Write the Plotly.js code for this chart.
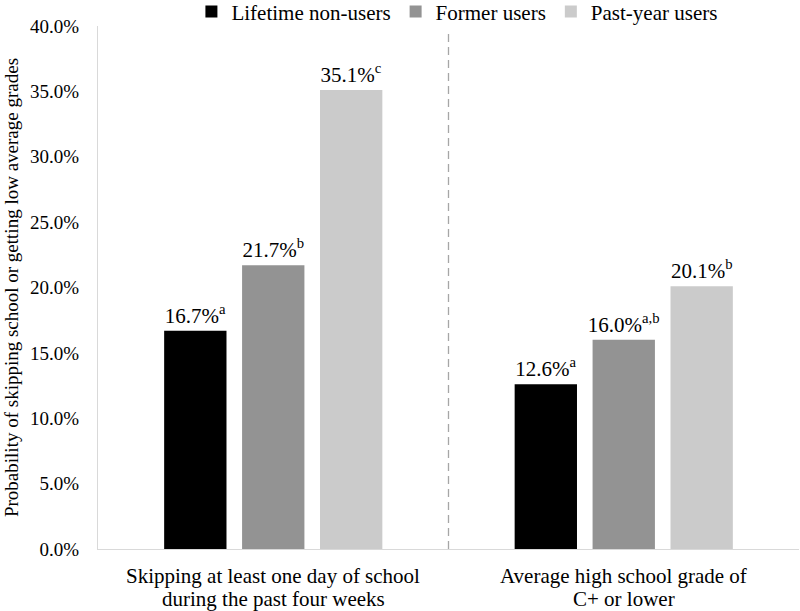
<!DOCTYPE html>
<html>
<head>
<meta charset="utf-8">
<script src="https://cdn.plot.ly/plotly-3.0.1.min.js"></script>
<style>html,body{margin:0;padding:0;background:#fff;}#chart{width:800px;height:611px;}</style>
</head>
<body>
<div id="chart"></div>
<script>
const categories = ["Skipping at least one day of school<br>during the past four weeks", "Average high school grade of<br>C+ or lower"];
const seriesNames = ["Lifetime non-users", "Former users", "Past-year users"];
const lifetimeNonUsers = [0.167, 0.126];
const formerUsers = [0.217, 0.160];
const pastYearUsers = [0.351, 0.201];
const lifetimeSup = ["a", "a"];
const formerSup = ["b", "a,b"];
const pastYearSup = ["c", "b"];
const yTickVals = [0, 0.05, 0.10, 0.15, 0.20, 0.25, 0.30, 0.35, 0.40];

const colors = ["#000000", "#939393", "#cbcbcb"];
const font = "Liberation Serif";

function mkTrace(name, vals, sups, color) {
  return {
    type: "bar", name: name, x: categories, y: vals,
    marker: {color: color},
    text: vals.map((v, i) => (v * 100).toFixed(1) + "%<sup>" + sups[i] + "</sup>"),
    textposition: "outside", cliponaxis: false, constraintext: "none",
    textfont: {family: font, size: 21, color: "#000"},
    hoverinfo: "none"
  };
}

const data = [
  mkTrace(seriesNames[0], lifetimeNonUsers, lifetimeSup, colors[0]),
  mkTrace(seriesNames[1], formerUsers, formerSup, colors[1]),
  mkTrace(seriesNames[2], pastYearUsers, pastYearSup, colors[2])
];

// category labels: one annotation per text line so the line spacing matches
const lineY = [-0.052, -0.095];
const annotations = [];
categories.forEach(c => {
  c.split("<br>").forEach((line, j) => {
    annotations.push({xref: "x", yref: "paper", x: c, y: lineY[j], yanchor: "middle",
      text: line, showarrow: false, font: {family: font, size: 21, color: "#000"}});
  });
});

const layout = {
  width: 800, height: 611,
  margin: {l: 98, r: 1, t: 26, b: 62, autoexpand: false},
  paper_bgcolor: "#fff", plot_bgcolor: "#fff",
  font: {family: font, size: 19, color: "#000"},
  barmode: "group", bargap: 0.333, bargroupgap: 0.2,
  showlegend: true,
  legend: {orientation: "h", x: 0.512, xanchor: "center", y: 1.027, yanchor: "middle",
           font: {family: font, size: 21, color: "#000"}, itemwidth: 30, tracegroupgap: 0},
  xaxis: {showline: true, linecolor: "#d9d9d9", linewidth: 1, ticks: "", showticklabels: false,
          fixedrange: true},
  yaxis: {range: [0, 0.40], tickvals: yTickVals, tickformat: ".1%", showgrid: false,
          zeroline: false, showline: true, linecolor: "#d9d9d9", linewidth: 1, ticks: "",
          ticklabelstandoff: 14,
          tickfont: {family: font, size: 19, color: "#000"},
          title: {text: "Probability of skipping school or getting low average grades",
                  font: {family: font, size: 19, color: "#000"}, standoff: 6}},
  annotations: annotations,
  shapes: [{type: "line", xref: "x", yref: "paper", x0: 0.5, x1: 0.5, y0: 0, y1: 0.995,
            line: {color: "#a6a6a6", width: 1.3, dash: "8px,5px"}}]
};

Plotly.newPlot("chart", data, layout, {displayModeBar: false, staticPlot: true});
</script>
</body>
</html>
